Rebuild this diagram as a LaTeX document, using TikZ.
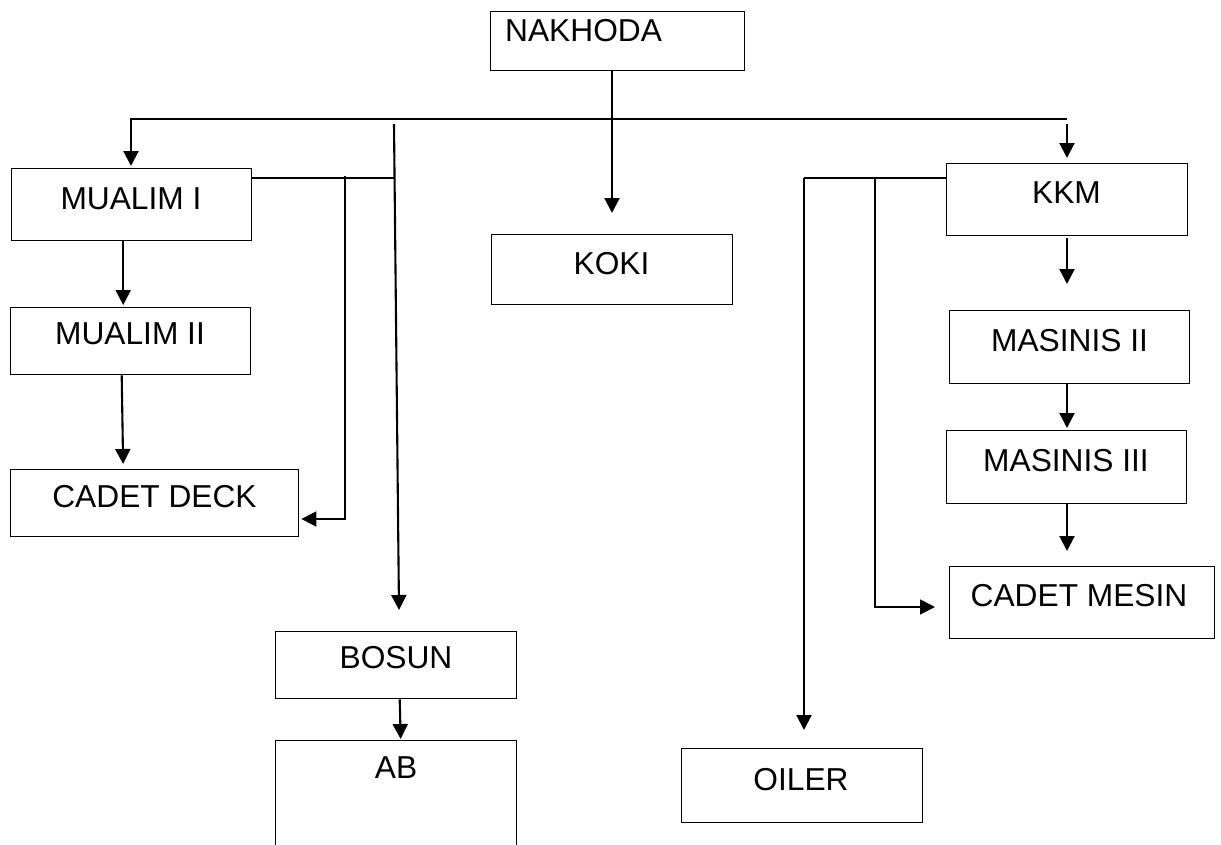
\documentclass[tikz,border=0pt]{standalone}
\usepackage{fontspec}
\setmainfont{Liberation Sans}
\usetikzlibrary{arrows.meta,calc}
\begin{document}
\begin{tikzpicture}[x=1pt,y=-1pt,
  box/.style={draw, line width=1.4pt, inner sep=0pt, anchor=north west},
  lbl/.style={inner sep=0pt, anchor=base, font=\fontsize{31.7pt}{36pt}\selectfont},
  conn/.style={line width=2.1pt, -{Triangle[length=15pt,width=15pt]}},
  line/.style={line width=1.7pt}]
\useasboundingbox (0,0) rectangle (1221,844);
\clip (0,0) rectangle (1221,844);
% boxes
\node[box, minimum width=254pt, minimum height=59pt] (NAKHODA) at (490,11) {};
\node[box, minimum width=240pt, minimum height=72pt] (MUALIM1) at (11,168) {};
\node[box, minimum width=240pt, minimum height=67pt] (MUALIM2) at (10,307) {};
\node[box, minimum width=288pt, minimum height=67pt] (CADETDECK) at (10,469) {};
\node[box, minimum width=241pt, minimum height=67pt] (BOSUN) at (275,631) {};
\node[box, minimum width=241pt, minimum height=130pt] (AB) at (275,740) {};
\node[box, minimum width=241pt, minimum height=70pt] (KOKI) at (491,234) {};
\node[box, minimum width=241pt, minimum height=72pt] (KKM) at (946,163) {};
\node[box, minimum width=240pt, minimum height=73pt] (MASINIS2) at (949,310) {};
\node[box, minimum width=240pt, minimum height=73pt] (MASINIS3) at (946,430) {};
\node[box, minimum width=265pt, minimum height=72pt] (CADETMESIN) at (949,566) {};
\node[box, minimum width=241pt, minimum height=74pt] (OILER) at (681,748) {};
% labels
\node[lbl, anchor=base west] (tNAKHODA) at (505,41) {NAKHODA};
\node[lbl] (tMUALIM1) at (131,209) {MUALIM I};
\node[lbl] (tMUALIM2) at (130,344) {MUALIM II};
\node[lbl] (tCADETDECK) at (154.5,507) {CADET DECK};
\node[lbl] (tBOSUN) at (396,668) {BOSUN};
\node[lbl] (tAB) at (396,778) {AB};
\node[lbl] (tKOKI) at (611.5,274) {KOKI};
\node[lbl] (tKKM) at (1066.5,203) {KKM};
\node[lbl] (tMASINIS2) at (1069.5,351) {MASINIS II};
\node[lbl] (tMASINIS3) at (1066,471) {MASINIS III};
\node[lbl] (tCADETMESIN) at (1079,606) {CADET MESIN};
\node[lbl] (tOILER) at (801,790) {OILER};
% coordinates
\coordinate (trunkTop) at (612,70);
\coordinate (busL) at (131,119);
\coordinate (busR) at (1067,119);
\coordinate (kkmIn) at (1067,124);
\coordinate (bosTop) at (394,124);
\coordinate (bosTip) at (399,610);
\coordinate (m1r) at (251,178);
\coordinate (m1j) at (394,178);
\coordinate (cdTop) at (345,176);
\coordinate (cdCorner) at (345,519);
\coordinate (kkmL) at (946,178);
\coordinate (oilTop) at (804,178);
\coordinate (cmTop) at (875,178);
\coordinate (cmCorner) at (875,607);
% connectors
\draw[conn, shorten >=21pt] (trunkTop) -- (trunkTop |- KOKI.north);
\draw[conn, shorten >=2pt] (busR) -- (busL) -- (busL |- MUALIM1.north);
\draw[conn, shorten >=5pt] (kkmIn) -- (kkmIn |- KKM.north);
\draw[conn] (bosTop) -- (bosTip);
\draw[line] (m1r) -- (m1j);
\draw[line, -{Triangle[length=15pt,width=15pt]}, shorten >=2pt] (cdTop) -- (cdCorner) -- (cdCorner -| CADETDECK.east);
\draw[conn, shorten >=2pt] ([xshift=-8.5pt]MUALIM1.south) -- ([xshift=-8.5pt]MUALIM1.south |- MUALIM2.north);
\draw[conn, shorten >=5pt] ([xshift=-9pt]MUALIM2.south) -- ([xshift=-7.5pt]CADETDECK.north -| MUALIM2.south);
\draw[conn, shorten >=1pt] ([xshift=3.5pt]BOSUN.south) -- ([xshift=4.5pt]AB.north);
\draw[line] (kkmL) -- (oilTop);
\draw[conn, shorten >=18pt] (oilTop) -- (oilTop |- OILER.north);
\draw[line, -{Triangle[length=15pt,width=15pt]}, shorten >=14pt] (cmTop) -- (cmCorner) -- (cmCorner -| CADETMESIN.west);
\draw[conn, shorten >=26pt] ([yshift=-2pt]KKM.south -| kkmIn) -- (kkmIn |- MASINIS2.north);
\draw[conn, shorten >=2pt] (MASINIS2.south -| kkmIn) -- (kkmIn |- MASINIS3.north);
\draw[conn, shorten >=15pt] (MASINIS3.south -| kkmIn) -- (kkmIn |- CADETMESIN.north);
\end{tikzpicture}
\end{document}
